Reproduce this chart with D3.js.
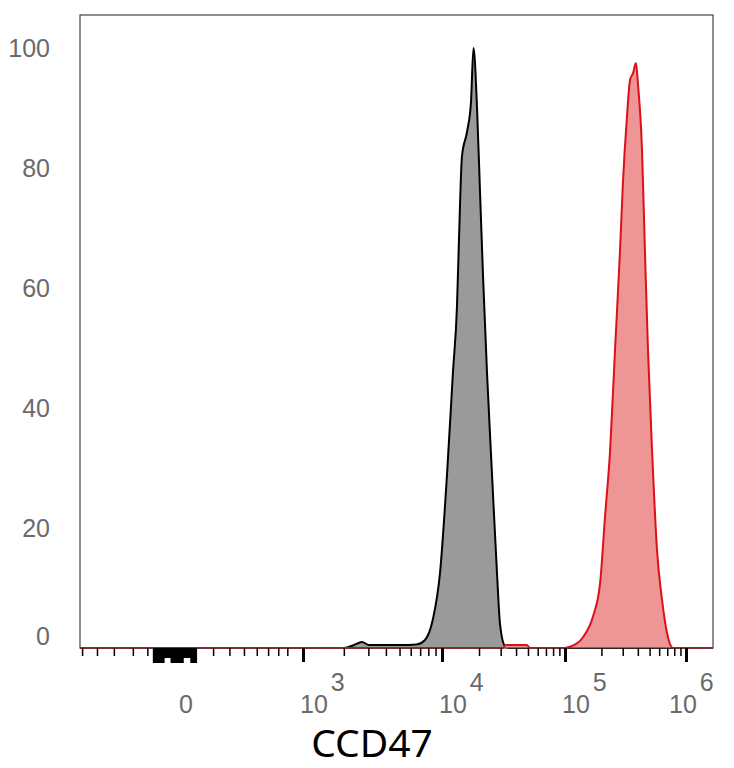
<!DOCTYPE html>
<html>
<head>
<meta charset="utf-8">
<script src="https://cdn.jsdelivr.net/npm/d3@7"></script>
<style>
  body { margin: 0; background: #fff; }
  svg { display: block; }
</style>
</head>
<body>
<script>
// histogram of the unstained control (grey) and the CD47 stained sample (red)
const controlX = [-515, 2000, 2370, 2700, 3030, 4990, 6610, 7550, 8600, 9680, 10990, 12280,
    13240, 13740, 14540, 15970, 17210, 18030, 19270, 20380, 21560, 23210, 25500, 28000,
    29630, 32530, 35000, 1670000];
const controlY = [0, 0, 0.5, 1.0, 0.5, 0.5, 0.6, 1.3, 4.7, 12.5, 29, 46,
    57, 68, 82, 86, 91, 100, 90, 76, 62, 46, 29, 12.5,
    4, 0.3, 0, 0];

const stainedX = [-515, 31500, 33000, 49000, 52000, 100000, 110000, 141000, 170000, 195000,
    214000, 236000, 259000, 285000, 301000, 325000, 345000, 365000, 386000, 401000,
    433000, 458000, 485000, 524000, 576000, 634000, 697000, 781000, 1670000];
const stainedY = [0, 0, 0.5, 0.5, 0, 0, 0.2, 1.8, 5.2, 10.8,
    21.8, 33, 49.7, 66.3, 77.5, 88.5, 94.7, 95.8, 97.5, 94,
    83, 66, 49.7, 33, 16.3, 8, 2.5, 0, 0];

const yTicks = [0, 20, 40, 60, 80, 100];
const decadeTicks = [1e3, 1e4, 1e5, 1e6];
const decadeLabels = ['3', '4', '5', '6'];
const negativeTicks = [-130, -200, -300, -400, -500];
const zeroTicksLong = [-100, -90, -80, -70, -60, -20, -10, 0, 10, 20, 30, 80, 90, 100];
const zeroTicksShort = [-50, -40, -30, 40, 50, 60, 70];
const lowTicks = [200, 300, 400, 500, 600, 700, 800];
const decadeMinorTicks = [2e3, 3e3, 4e3, 5e3, 6e3, 7e3, 8e3, 9e3,
    2e4, 3e4, 4e4, 5e4, 6e4, 7e4, 8e4, 9e4,
    2e5, 3e5, 4e5, 5e5, 6e5, 7e5, 8e5, 9e5];
const axisTitle = 'CCD47';

const width = 734;
const height = 768;
const plotLeft = 80, plotRight = 713, plotTop = 15, plotBottom = 648;

const svg = d3.select('body')
    .append('svg')
    .attr('width', width)
    .attr('height', height);

// biexponential-like x axis: asinh transform, then piecewise linear between decades
const W = 400;
const T = v => Math.asinh(v / W);
const xKnots = [-515, 0, 1e3, 1e4, 1e5, 1e6, 1670000];
const xLin = d3.scaleLinear()
    .domain(xKnots.map(T))
    .range([plotLeft, 176, 303, 442, 565, 686, plotRight]);
function x(v) { return xLin(T(v)); }
x.domain = () => xKnots;
x.range = () => xLin.range();
x.copy = () => x;

const y = d3.scaleLinear().domain([0, 100]).range([plotBottom, 48]);

const area = (xs, ys) => d3.area()
    .x((d, i) => x(xs[i]))
    .y0(y(0))
    .y1((d, i) => y(ys[i]))
    .curve(d3.curveMonotoneX)(xs);
const line = (xs, ys) => d3.line()
    .x((d, i) => x(xs[i]))
    .y((d, i) => y(ys[i]))
    .curve(d3.curveMonotoneX)(xs);

const plot = svg.append('g');

plot.append('path')
    .attr('d', area(controlX, controlY))
    .style('fill', '#9a9a9a');
plot.append('path')
    .attr('d', line(controlX, controlY))
    .style('fill', 'none')
    .style('stroke', '#000')
    .style('stroke-width', 2);

plot.append('path')
    .attr('d', area(stainedX, stainedY))
    .style('fill', '#ee9595');
plot.append('path')
    .attr('d', line(stainedX, stainedY))
    .style('fill', 'none')
    .style('stroke', '#dc1018')
    .style('stroke-width', 2);

svg.append('rect')
    .attr('x', plotLeft)
    .attr('y', plotTop)
    .attr('width', plotRight - plotLeft)
    .attr('height', plotBottom - plotTop)
    .style('fill', 'none')
    .style('stroke', '#444')
    .style('stroke-width', 1.2);

// x ticks
function tickGroup(values, size, strokeWidth) {
    svg.append('g')
        .attr('transform', `translate(0,${plotBottom})`)
        .call(d3.axisBottom(x).tickValues(values).tickSize(size).tickFormat(''))
        .call(g => g.select('.domain').remove())
        .call(g => g.selectAll('line').style('stroke', '#000').style('stroke-width', strokeWidth));
}
tickGroup(negativeTicks.concat(lowTicks, decadeMinorTicks), 8, 1.5);
tickGroup(zeroTicksShort, 10, 3);
tickGroup(zeroTicksLong, 15, 3);
tickGroup(decadeTicks, 14, 3);

// x labels
svg.append('text')
    .attr('x', x(0) + 10)
    .attr('y', 713)
    .attr('text-anchor', 'middle')
    .style('font-family', '"Liberation Sans", Arial, sans-serif')
    .style('font-size', '25px')
    .style('fill', '#6a6a6a')
    .text('0');

const decadeText = svg.append('g')
    .selectAll('text')
    .data(decadeTicks)
    .join('text')
    .attr('x', d => Math.min(x(d) - 3, plotRight - 44))
    .attr('y', 713)
    .style('font-family', '"Liberation Sans", Arial, sans-serif')
    .style('font-size', '25px')
    .style('fill', '#6a6a6a');
decadeText.append('tspan').text('10');
decadeText.append('tspan')
    .attr('dx', 3)
    .attr('dy', -22)
    .text((d, i) => decadeLabels[i]);

// y labels
svg.append('g')
    .selectAll('text')
    .data(yTicks)
    .join('text')
    .attr('x', 50)
    .attr('y', d => Math.min(y(d), y(0) - 12) + 9)
    .attr('text-anchor', 'end')
    .style('font-family', '"Liberation Sans", Arial, sans-serif')
    .style('font-size', '25px')
    .style('fill', '#6a6a6a')
    .text(d => d);

svg.append('text')
    .attr('x', 372)
    .attr('y', 757)
    .attr('text-anchor', 'middle')
    .style('font-family', '"Noto Sans", sans-serif')
    .style('font-size', '39px')
    .style('fill', '#000')
    .text(axisTitle);
</script>
</body>
</html>
